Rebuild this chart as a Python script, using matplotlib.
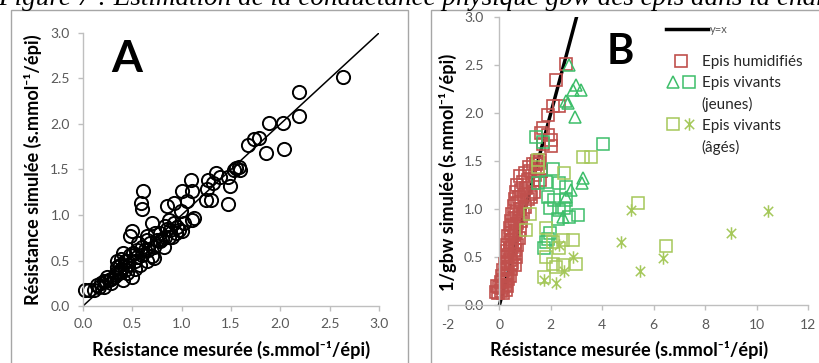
import numpy as np
import matplotlib
matplotlib.use("Agg")
import matplotlib.pyplot as plt
from matplotlib.patches import Rectangle
from matplotlib.lines import Line2D
from matplotlib.path import Path
from matplotlib.legend_handler import HandlerTuple
from matplotlib.ticker import MultipleLocator, FormatStrFormatter

plt.rcParams['font.family'] = ['Lato', 'DejaVu Sans']
plt.rcParams['axes.unicode_minus'] = False

# --- Panel A : resistance measured vs simulated ---
a_mes = [2.64, 2.19, 2.19, 2.03, 1.89, 2.04, 1.85, 1.78, 1.73, 1.67,
         1.55, 1.58, 1.59, 1.53, 1.47, 1.49, 1.47, 1.35, 1.32, 1.27,
         1.26, 1.30, 1.25, 1.39, 1.09, 1.10, 1.00, 1.05, 1.10, 0.99,
         1.00, 0.92, 0.85, 0.61, 0.59, 0.60, 0.70, 0.50, 0.48, 0.56,
         0.65, 0.73, 0.78, 0.83, 0.87, 0.92, 0.94, 0.87, 0.82, 0.72,
         0.66, 0.72, 0.65, 0.58, 0.53, 0.50, 0.45, 0.45, 0.51, 0.55,
         0.39, 0.34, 0.36, 0.41, 0.28, 0.24, 0.31, 0.21, 0.16, 0.11,
         0.06, 0.02, 0.18, 0.23, 0.28, 0.33, 0.38, 0.43, 0.48, 0.55,
         0.60, 0.63, 0.68, 0.75, 0.78, 0.83, 0.90, 0.97, 1.02, 0.95,
         0.88, 0.85, 0.65, 0.60, 0.53, 0.46, 0.39, 0.33, 0.26, 0.21,
         0.14, 0.34, 0.41, 0.38, 1.12, 0.80, 0.70, 0.43]
a_sim = [2.52, 2.35, 2.09, 2.01, 2.01, 1.73, 1.68, 1.85, 1.84, 1.77,
         1.52, 1.53, 1.49, 1.49, 1.42, 1.32, 1.12, 1.46, 1.35, 1.38,
         1.29, 1.17, 1.17, 1.42, 1.39, 1.26, 1.26, 1.15, 0.95, 1.04,
         0.82, 1.13, 1.10, 1.26, 1.13, 1.07, 0.91, 0.82, 0.77, 0.69,
         0.77, 0.80, 0.80, 0.88, 0.94, 0.91, 0.80, 0.76, 0.65, 0.65,
         0.61, 0.53, 0.50, 0.45, 0.41, 0.32, 0.36, 0.50, 0.58, 0.61,
         0.52, 0.43, 0.36, 0.29, 0.25, 0.32, 0.32, 0.21, 0.21, 0.18,
         0.18, 0.18, 0.25, 0.27, 0.30, 0.36, 0.45, 0.50, 0.56, 0.54,
         0.56, 0.61, 0.69, 0.72, 0.71, 0.76, 0.76, 0.83, 0.91, 0.87,
         0.83, 0.85, 0.72, 0.65, 0.50, 0.45, 0.41, 0.34, 0.29, 0.27,
         0.23, 0.50, 0.58, 0.38, 0.97, 0.74, 0.55, 0.40]

# --- Panel B ---
hum_x = [-0.15, -0.05, 0.05, 0.15, 0.25, -0.10, 0.00, 0.10, 0.20, 0.30,
         0.05, 0.15, 0.25, 0.35, 0.10, 0.20, 0.30, 0.40,
         0.15, 0.25, 0.35, 0.45, 0.20, 0.30, 0.40, 0.50, 0.25, 0.35,
         0.45, 0.55, 0.30, 0.40, 0.50, 0.60, 0.65, 0.60,
         0.30, 0.40, 0.50, 0.60, 0.70, 0.35, 0.45, 0.55, 0.65, 0.75,
         0.40, 0.50, 0.60, 0.70, 0.80, 0.45, 0.55, 0.75, 0.85,
         0.50, 0.65, 0.80, 0.90, 0.55, 0.70, 0.85, 1.00, 0.60, 0.75,
         0.95, 1.10, 0.65, 0.85, 1.05, 1.20,
         0.70, 0.90, 1.10, 1.30, 0.80, 1.00, 1.20, 1.40, 1.50, 1.30,
         1.45, 1.55, 1.60, 1.15,
         1.62, 1.69, 1.88, 2.01, 2.01, 1.71, 1.88, 2.08, 2.31, 2.20,
         2.59, 1.56, 1.43, 1.62, 1.56, 1.36, 1.23]
hum_y = [0.14, 0.13, 0.15, 0.12, 0.16, 0.20, 0.19, 0.18, 0.21, 0.20,
         0.24, 0.26, 0.25, 0.27, 0.30, 0.31, 0.33, 0.30,
         0.36, 0.38, 0.40, 0.37, 0.43, 0.45, 0.47, 0.44, 0.50, 0.52,
         0.50, 0.53, 0.56, 0.58, 0.60, 0.57, 0.50, 0.42,
         0.63, 0.66, 0.68, 0.65, 0.62, 0.72, 0.75, 0.73, 0.77, 0.70,
         0.80, 0.83, 0.81, 0.85, 0.78, 0.88, 0.90, 0.92, 0.87,
         0.95, 0.97, 1.00, 0.95, 1.03, 1.06, 1.08, 1.02, 1.10, 1.13,
         1.15, 1.10, 1.18, 1.20, 1.22, 1.16,
         1.25, 1.28, 1.30, 1.27, 1.34, 1.37, 1.40, 1.35, 1.42, 1.47,
         1.50, 1.48, 1.40, 1.44,
         1.79, 1.84, 1.77, 1.66, 1.72, 1.68, 1.98, 2.07, 2.07, 2.34,
         2.51, 1.51, 1.47, 1.40, 1.30, 1.18, 1.13]

jeu_tri_x = [2.70, 2.98, 3.18, 2.85, 2.59, 2.66, 2.92, 3.24, 3.22, 2.79, 2.59, 2.46]
jeu_tri_y = [2.50, 2.29, 2.24, 2.24, 2.13, 2.10, 1.96, 1.32, 1.27, 1.20, 1.13, 0.92]
jeu_sq_x = [4.02, 1.43, 1.69, 2.08, 1.49, 1.82, 1.88, 2.14, 1.95, 2.33, 2.59,
            2.53, 2.59, 2.27, 2.72, 3.05, 1.95, 1.82, 1.88, 1.75, 2.33]
jeu_sq_y = [1.68, 1.75, 1.70, 1.42, 1.27, 1.28, 1.13, 1.09, 1.01, 0.99, 1.09,
            1.01, 1.23, 0.90, 0.92, 0.94, 0.75, 0.66, 0.69, 0.59, 1.27]
age_sq_x = [3.24, 3.57, 5.38, 6.49, 2.53, 1.17, 1.04, 1.82, 2.08, 2.46,
            2.85, 2.33, 1.82, 2.08, 2.46, 2.98, 1.75, 2.20, 1.49, 1.49]
age_sq_y = [1.54, 1.54, 1.06, 0.61, 1.37, 0.95, 0.78, 0.80, 0.66, 0.68,
            0.68, 0.59, 0.50, 0.43, 0.42, 0.43, 0.29, 0.40, 1.51, 1.44]
age_st_x = [10.44, 9.01, 6.36, 5.45, 5.12, 4.73, 2.85, 2.53, 2.20, 1.75, 2.33]
age_st_y = [0.98, 0.75, 0.49, 0.35, 0.99, 0.66, 0.50, 0.35, 0.23, 0.26, 0.62]

red = '#C0504D'
green = '#3DBE6A'
olive = '#A5C85A'
gray = '#BFBFBF'
tickc = '#595959'

# asterisk marker: vertical bar plus two diagonals
star = Path([(0, -1), (0, 1), (-0.75, -0.75), (0.75, 0.75), (-0.75, 0.75), (0.75, -0.75)],
            [Path.MOVETO, Path.LINETO] * 3)

fig = plt.figure(figsize=(8.19, 3.63), dpi=100)

fig.text(-0.002, 1 - 5 / 363, "Figure 7 : Estimation de la conductance physique gbw des épis dans la chambre",
         family='Liberation Serif', style='italic', size=19.5, va='baseline', color='black')

for x0, w in [(11 / 819, 397 / 819), (431 / 819, 0.5)]:
    fig.patches.append(Rectangle((x0, -0.1), w, 1.1 - 10 / 363, transform=fig.transFigure,
                                 fill=False, edgecolor='#A6A6A6', lw=1))


def style_axes(ax, xpad, ypad):
    for s in ['top', 'right']:
        ax.spines[s].set_visible(False)
    for s in ['left', 'bottom']:
        ax.spines[s].set_color(gray)
        ax.spines[s].set_linewidth(1)
    ax.tick_params(direction='out', length=3.5, width=1, color=gray, labelcolor=tickc, labelsize=10)
    ax.tick_params(axis='x', pad=xpad)
    ax.tick_params(axis='y', pad=ypad)
    ax.patch.set_alpha(0)


# Panel A
ax1 = fig.add_axes([83 / 819, 1 - 306 / 363, 296 / 819, 273 / 363])
ax1.plot([0, 3.02], [0, 3.02], color='black', lw=1.1, zorder=1)
ax1.plot(a_mes, a_sim, 'o', ms=9.5, mfc='none', mec='black', mew=1.4, clip_on=False, zorder=2)
ax1.set_xlim(0, 3)
ax1.set_ylim(0, 3)
ax1.xaxis.set_major_locator(MultipleLocator(0.5))
ax1.yaxis.set_major_locator(MultipleLocator(0.5))
ax1.xaxis.set_major_formatter(FormatStrFormatter('%.1f'))
ax1.yaxis.set_major_formatter(FormatStrFormatter('%.1f'))
style_axes(ax1, 5, 6)
ax1.set_xlabel("Résistance mesurée (s.mmol⁻¹/épi)", fontsize=11.5, fontweight='bold')
ax1.set_ylabel("Résistance simulée (s.mmol⁻¹/épi)", fontsize=11.5, fontweight='bold')
ax1.xaxis.set_label_coords(0.5, (306 - 341) / 273)
ax1.yaxis.set_label_coords((42 - 83) / 296, 0.5)
ax1.text(0.149, 0.905, "A", transform=ax1.transAxes, fontsize=32, fontweight='bold',
         ha='center', va='center')

# Panel B
ax2 = fig.add_axes([448 / 819, 1 - 305 / 363, 360 / 819, 288 / 363])
ax2.plot([0, 3], [0, 3], color='black', lw=2.5, zorder=1)
ax2.plot(hum_x, hum_y, 's', ms=8, mfc='none', mec=red, mew=1.2, clip_on=False, zorder=2)
ax2.plot(jeu_tri_x, jeu_tri_y, '^', ms=8, mfc='none', mec=green, mew=1.1, clip_on=False, zorder=2)
ax2.plot(jeu_sq_x, jeu_sq_y, 's', ms=8, mfc='none', mec=green, mew=1.1, clip_on=False, zorder=2)
ax2.plot(age_sq_x, age_sq_y, 's', ms=8, mfc='none', mec=olive, mew=1.1, clip_on=False, zorder=2)
ax2.plot(age_st_x, age_st_y, ls='none', marker=star, ms=9, mfc='none', mec=olive, mew=1.1,
         clip_on=False, zorder=2)
ax2.set_xlim(-2, 12)
ax2.set_ylim(0, 3)
ax2.spines['left'].set_position(('data', 0))
ax2.xaxis.set_major_locator(MultipleLocator(2))
ax2.yaxis.set_major_locator(MultipleLocator(0.5))
ax2.yaxis.set_major_formatter(FormatStrFormatter('%.1f'))
style_axes(ax2, 6.5, 8)
ax2.set_xlabel("Résistance mesurée (s.mmol⁻¹/épi)", fontsize=11.5, fontweight='bold')
ax2.set_ylabel("1/gbw simulée (s.mmol⁻¹/épi)", fontsize=11.5, fontweight='bold')
ax2.xaxis.set_label_coords((629 - 448) / 360, (305 - 341) / 288)
ax2.yaxis.set_label_coords((457 - 448) / 360, 0.462)
ax2.text(0.478, 0.88, "B", transform=ax2.transAxes, fontsize=30, fontweight='bold',
         ha='center', va='center')

h_line = Line2D([], [], color='black', lw=2.5)
leg1 = ax2.legend([h_line], ['y=x'], loc='upper left', bbox_to_anchor=(0.605, 0.975),
                  frameon=False, fontsize=8, handlelength=3.8, handletextpad=0.2,
                  borderpad=0, borderaxespad=0, labelcolor=tickc)
ax2.add_artist(leg1)

h_red = Line2D([], [], ls='none', marker='s', ms=8, mfc='none', mec=red, mew=1.2)
h_tri = Line2D([], [], ls='none', marker='^', ms=8, mfc='none', mec=green, mew=1.1)
h_gsq = Line2D([], [], ls='none', marker='s', ms=8, mfc='none', mec=green, mew=1.1)
h_osq = Line2D([], [], ls='none', marker='s', ms=8, mfc='none', mec=olive, mew=1.1)
h_ost = Line2D([], [], ls='none', marker=star, ms=9, mfc='none', mec=olive, mew=1.1)
h_empty = Line2D([], [], ls='none')
leg2 = ax2.legend([h_red, (h_tri, h_gsq), h_empty, (h_osq, h_ost), h_empty],
                  ['Epis humidifiés', 'Epis vivants', '(jeunes)', 'Epis vivants', '(âgés)'],
                  handler_map={tuple: HandlerTuple(ndivide=None, pad=0.2)},
                  loc='upper left', bbox_to_anchor=(0.605, 0.868), frameon=False, fontsize=11,
                  handlelength=2.0, handletextpad=0.35, labelspacing=0.45,
                  borderpad=0, borderaxespad=0, labelcolor='#262626')

# scale the axis titles so their width matches the original (~277 px)
fig.canvas.draw()
r = fig.canvas.get_renderer()
w = ax1.xaxis.label.get_window_extent(r).width
fs = 11.5 * 277 / w
for lab in [ax1.xaxis.label, ax1.yaxis.label, ax2.xaxis.label, ax2.yaxis.label]:
    lab.set_fontsize(fs)

fig.savefig('out.png', dpi=100)
